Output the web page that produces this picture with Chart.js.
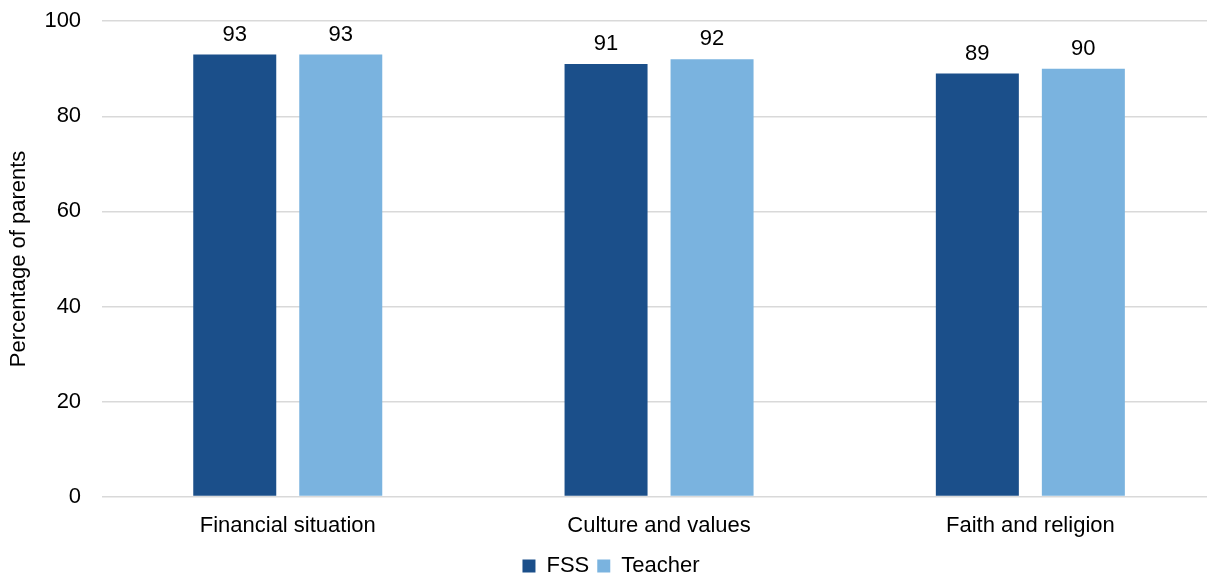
<!DOCTYPE html>
<html>
<head>
<meta charset="utf-8">
<script src="https://cdn.jsdelivr.net/npm/chart.js@4.4.0/dist/chart.umd.min.js"></script>
<style>
  html, body { margin: 0; padding: 0; background: #fff; overflow: hidden; }
  #wrap { width: 1216px; height: 590px; margin-top: -13px; }
</style>
</head>
<body>
<div id="wrap"><canvas id="chart"></canvas></div>
<script>
// Dữ liệu
const categories = ['Financial situation', 'Culture and values', 'Faith and religion'];
const fssValues = [93, 91, 89];
const teacherValues = [93, 92, 90];
const yTicks = [0, 20, 40, 60, 80, 100];

// Plugin nhỏ để vẽ số trên đầu cột
const valueLabels = {
    id: 'valueLabels',
    afterDatasetsDraw(chart) {
        const ctx = chart.ctx;
        ctx.save();
        ctx.font = '22px "Liberation Sans", Arial, sans-serif';
        ctx.fillStyle = '#000';
        ctx.textAlign = 'center';
        ctx.textBaseline = 'bottom';
        chart.data.datasets.forEach(function(ds, i) {
            chart.getDatasetMeta(i).data.forEach(function(bar, j) {
                ctx.fillText(ds.data[j], bar.x, bar.y - 9);
            });
        });
        ctx.restore();
    }
};

document.addEventListener('DOMContentLoaded', function() {
    const ctx = document.getElementById('chart').getContext('2d');
    Chart.defaults.font.family = '"Liberation Sans", Arial, sans-serif';
    Chart.defaults.color = '#000';

    new Chart(ctx, {
        type: 'bar',
        data: {
            labels: categories,
            datasets: [
                {
                    label: 'FSS',
                    data: fssValues,
                    backgroundColor: '#1B4F8A',
                    barPercentage: 0.783,
                    categoryPercentage: 0.571
                },
                {
                    label: 'Teacher',
                    data: teacherValues,
                    backgroundColor: '#7AB3DF',
                    barPercentage: 0.783,
                    categoryPercentage: 0.571
                }
            ]
        },
        options: {
            responsive: true,
            maintainAspectRatio: false,
            animation: false,
            layout: { padding: { top: 0, left: 6, right: 0, bottom: -10 } },
            plugins: {
                legend: {
                    position: 'bottom',
                    labels: {
                        boxWidth: 13,
                        boxHeight: 13,
                        padding: 8,
                        font: { size: 22 }
                    }
                },
                tooltip: { enabled: false }
            },
            scales: {
                x: {
                    grid: { display: false },
                    border: { display: false },
                    ticks: { font: { size: 22 }, padding: 8 }
                },
                y: {
                    min: 0,
                    max: 100,
                    afterBuildTicks: function(axis) {
                        axis.ticks = yTicks.map(function(v) { return { value: v }; });
                    },
                    grid: { color: '#D9D9D9', lineWidth: 1.5, drawTicks: false },
                    border: { display: false },
                    ticks: { font: { size: 22 }, padding: 21 },
                    title: {
                        display: true,
                        text: 'Percentage of parents',
                        font: { size: 22 },
                        padding: { top: 0, bottom: -9 }
                    }
                }
            }
        },
        plugins: [valueLabels]
    });
});
</script>
</body>
</html>
